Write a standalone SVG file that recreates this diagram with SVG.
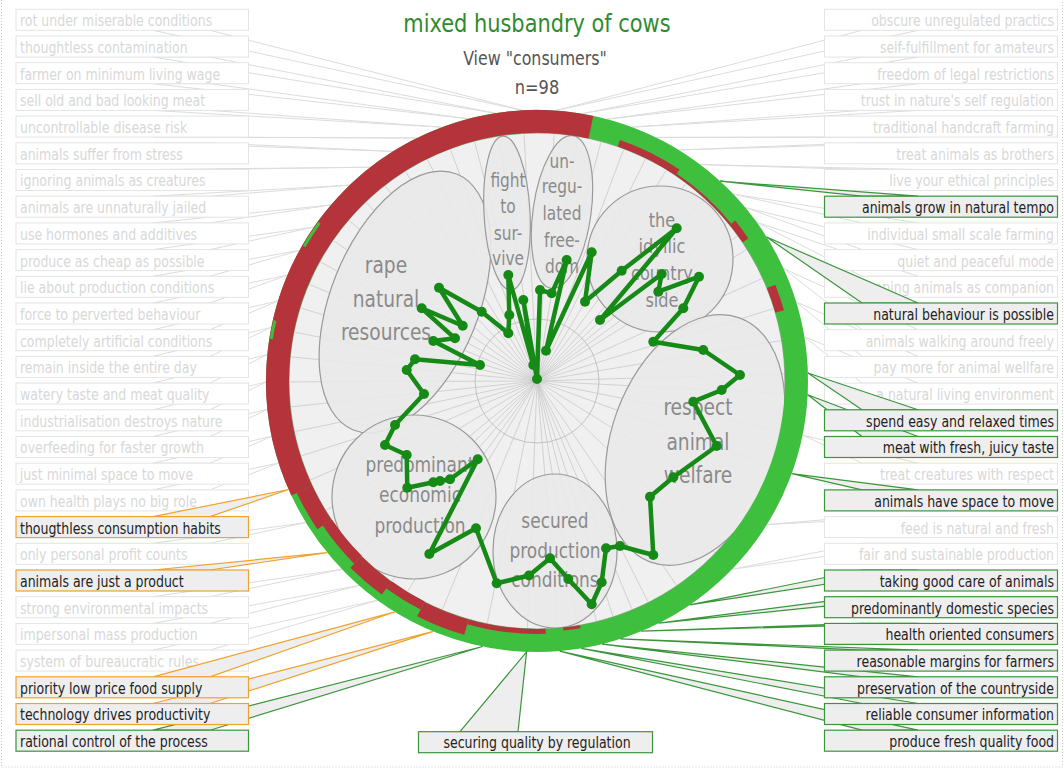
<svg xmlns="http://www.w3.org/2000/svg" width="1064" height="772" viewBox="0 0 1064 772">
<style>
text{font-family:'Liberation Sans Narrow','DejaVu Sans Condensed','Roboto Condensed','Liberation Sans',sans-serif}
.fb{fill:#fff;stroke:#e4e4e4;stroke-width:1}
.ft,.ht{font-size:16px;transform-box:fill-box;transform-origin:0 0;transform:scaleX(.87)}
.ftr,.htr{font-size:16px;text-anchor:end;transform-box:fill-box;transform-origin:100% 0;transform:scaleX(.87)}
.htc{fill:#222;font-size:16px;text-anchor:middle;transform-box:fill-box;transform-origin:50% 0;transform:scaleX(.87)}
.ft,.ftr{fill:#d8d8d8}
.ht,.htr{fill:#222}
.ftl{fill:none;stroke:#dcdcdc;stroke-width:1}
.hg{fill:#eeeeee;stroke:#3a963a;stroke-width:1.2}
.ho{fill:#eeeeee;stroke:#f0a22e;stroke-width:1.2}
.bub{fill:#e9e9e9;fill-opacity:0.9;stroke:#9a9a9a;stroke-width:1.2}
.bl{fill:#8a8a8a;text-anchor:middle;transform-box:fill-box;transform-origin:50% 0;transform:scaleX(.9)}
.ti{text-anchor:middle;transform-box:fill-box;transform-origin:50% 0}
.red{fill:none;stroke:#b5333b}
.grn{fill:none;stroke:#3ebf3e}
</style>
<rect x="1.5" y="-2" width="1061" height="769" fill="none" stroke="#c8c8c8" stroke-dasharray="1 2"/>

<g id="connectors-faded">
<polygon class="ftl" points="153,30.3 522.8,110.4 210,30.3"/>
<polygon class="ftl" points="153,57 495.5,113.2 210,57"/>
<polygon class="ftl" points="153,83.7 468.7,118.8 210,83.7"/>
<polygon class="ftl" points="153,110.4 442.1,127.2 210,110.4"/>
<polygon class="ftl" points="153,137.1 416.9,138 210,137.1"/>
<polygon class="ftl" points="153,142.8 393,151.4 210,142.8"/>
<polygon class="ftl" points="153,169.5 370.5,167.2 210,169.5"/>
<polygon class="ftl" points="153,196.2 349.8,185.1 210,196.2"/>
<polygon class="ftl" points="153,222.9 330.9,205 210,222.9"/>
<polygon class="ftl" points="153,249.6 314,227.1 210,249.6"/>
<polygon class="ftl" points="153,276.3 299.5,250.4 210,276.3"/>
<polygon class="ftl" points="153,303 287.5,275.1 210,303"/>
<polygon class="ftl" points="153,329.7 278.1,300.9 210,329.7"/>
<polygon class="ftl" points="153,356.4 271.3,327.4 210,356.4"/>
<polygon class="ftl" points="153,383.1 267.3,354.6 210,383.1"/>
<polygon class="ftl" points="153,409.8 266,382 210,409.8"/>
<polygon class="ftl" points="153,436.5 267.5,409.3 210,436.5"/>
<polygon class="ftl" points="153,463.2 271.7,436.4 210,463.2"/>
<polygon class="ftl" points="153,489.9 278.7,463 210,489.9"/>
<polygon class="ftl" points="153,543.3 305.9,522.6 210,543.3"/>
<polygon class="ftl" points="153,596.7 342.1,569.3 210,596.7"/>
<polygon class="ftl" points="153,623.4 359.2,585.5 210,623.4"/>
<polygon class="ftl" points="153,650.1 377.7,600.2 210,650.1"/>
<polygon class="ftl" points="862,30.3 555.9,110.6 918,30.3"/>
<polygon class="ftl" points="862,57 581.7,113.7 918,57"/>
<polygon class="ftl" points="862,83.7 607.1,119.2 918,83.7"/>
<polygon class="ftl" points="862,110.4 631.9,127.2 918,110.4"/>
<polygon class="ftl" points="862,137.1 655.8,137.4 918,137.1"/>
<polygon class="ftl" points="862,142.8 678.6,150 918,142.8"/>
<polygon class="ftl" points="862,169.5 700.1,164.6 918,169.5"/>
<polygon class="ftl" points="862,222.9 733.3,194.1 918,222.9"/>
<polygon class="ftl" points="862,249.6 745.2,207.5 918,249.6"/>
<polygon class="ftl" points="862,276.3 756.5,222.1 918,276.3"/>
<polygon class="ftl" points="862,329.7 783.6,268.6 918,329.7"/>
<polygon class="ftl" points="862,356.4 796.2,301.8 918,356.4"/>
<polygon class="ftl" points="862,383.1 804.4,336.7 918,383.1"/>
<polygon class="ftl" points="862,463.2 802.6,435 918,463.2"/>
<polygon class="ftl" points="862,516.6 766.8,524.6 918,516.6"/>
<polygon class="ftl" points="862,543.3 731.9,569.3 918,543.3"/>
</g>

<g id="chart">
<circle cx="537" cy="381" r="248" fill="#f0f0f0" stroke="#a8a8a8" stroke-width="1.2"/>
<path fill="none" stroke="#c9c9c9" stroke-width="0.8" d="M537 381L524.1 134.3M537 381L499.2 136.9M537 381L474.7 142M537 381L450.5 149.6M537 381L427.6 159.6M537 381L405.7 171.8M537 381L385.3 186.1M537 381L366.3 202.4M537 381L349.2 220.6M537 381L333.7 240.8M537 381L320.6 262M537 381L309.6 284.5M537 381L301 308M537 381L294.9 332.2M537 381L291.2 356.9M537 381L290 381.9M537 381L291.4 406.8M537 381L295.2 431.5M537 381L301.6 455.7M537 381L310.6 479.9M537 381L326.4 510.1M537 381L345.9 537.4M537 381L359.3 552.6M537 381L375 567.4M537 381L391.8 580.8M537 381L407.6 591.4M537 381L442.5 609.2M537 381L487.3 623M537 381L527.5 627.8M537 381L554.2 134.6M537 381L577.8 137.4M537 381L600.9 142.4M537 381L623.5 149.6M537 381L645.3 159M537 381L666.1 170.4M537 381L685.6 183.7M537 381L703.9 198.9M537 381L715.9 210.7M537 381L726.8 222.9M537 381L737.1 236.2M537 381L746.2 249.7M537 381L761.8 278.6M537 381L773.2 308.8M537 381L780.7 340.7M537 381L783.9 373.7M537 381L783.7 393.5M537 381L779 430.3M537 381L769.1 465.5M537 381L746.5 511.9M537 381L714.7 552.6M537 381L676.2 585M537 381L648 601.7M537 381L631.9 609M537 381L612.9 616M537 381L596.3 620.8M537 381L577.3 624.7M537 381L557.7 627.1"/>
<circle cx="537" cy="381" r="62" fill="none" stroke="#c2c2c2" stroke-width="1"/>
</g>

<g id="bubble-rape">
<ellipse class="bub" cx="405" cy="302" rx="74" ry="138" transform="rotate(22 405 302)"/>
<text class="bl" font-size="23" x="386" y="273">rape</text>
<text class="bl" font-size="23" x="386" y="307">natural</text>
<text class="bl" font-size="23" x="386" y="340">resources</text>
</g>
<g id="bubble-fight">
<ellipse class="bub" cx="507" cy="213" rx="23" ry="77" transform="rotate(-3 507 213)"/>
<text class="bl" font-size="19" x="508" y="187">fight</text>
<text class="bl" font-size="19" x="508" y="213">to</text>
<text class="bl" font-size="19" x="508" y="240">sur-</text>
<text class="bl" font-size="19" x="508" y="265">vive</text>
</g>
<g id="bubble-unregulated">
<ellipse class="bub" cx="562" cy="212" rx="29" ry="77" transform="rotate(8 562 212)"/>
<text class="bl" font-size="19" x="562" y="168">un-</text>
<text class="bl" font-size="19" x="562" y="193">regu-</text>
<text class="bl" font-size="19" x="562" y="220">lated</text>
<text class="bl" font-size="19" x="562" y="247">free-</text>
<text class="bl" font-size="19" x="562" y="273">dom</text>
</g>
<g id="bubble-idyllic">
<circle class="bub" cx="660" cy="259" r="73"/>
<text class="bl" font-size="20" x="662" y="227">the</text>
<text class="bl" font-size="20" x="662" y="253">idyllic</text>
<text class="bl" font-size="20" x="662" y="280">country</text>
<text class="bl" font-size="20" x="662" y="307">side</text>
</g>
<g id="bubble-respect">
<ellipse class="bub" cx="695" cy="440" rx="83" ry="130" transform="rotate(20 695 440)"/>
<text class="bl" font-size="23" x="698" y="415">respect</text>
<text class="bl" font-size="23" x="698" y="450">animal</text>
<text class="bl" font-size="23" x="698" y="483">welfare</text>
</g>
<g id="bubble-secured">
<ellipse class="bub" cx="555" cy="551" rx="62" ry="77"/>
<text class="bl" font-size="21" x="555" y="528">secured</text>
<text class="bl" font-size="21" x="555" y="558">production</text>
<text class="bl" font-size="21" x="555" y="587">conditions</text>
</g>
<g id="bubble-economic">
<circle class="bub" cx="414" cy="497" r="82"/>
<text class="bl" font-size="21" x="420" y="472">predominant</text>
<text class="bl" font-size="21" x="420" y="502">economic</text>
<text class="bl" font-size="21" x="420" y="533">production</text>
</g>

<g id="profile" fill="#168a16">
<polygon fill="none" stroke="#168a16" stroke-width="4.5" stroke-linejoin="round" points="540,290 551.7,293.3 566.7,260 546,350.7 591.7,252.3 585,301.7 621.7,270.7 676.7,228.3 600,320 661.7,274 658.3,291.7 699,276.7 683.3,308.3 653.3,341.7 703.3,350 740,375 721.7,390 693.3,401.7 716.7,446 673.3,477.3 650,496.7 653.3,555 620,546 606,548.3 601.7,582.3 591.7,604.3 568.3,579 550,558.3 529,575.5 496.7,583.3 476,528.3 429.3,554 477.7,459.3 450,479.3 440,481 433.3,482.3 407.3,487.7 406.7,455 385,445 395,425 424,394 406.7,370 415,359.3 480,365 433.3,341 455,338.3 421.7,308.3 462.7,325.7 439,287.7 481.7,311.7 508.3,333.3 509.3,315 508.3,275 533.3,365 523.3,300 537,379"/>
<circle cx="540" cy="290" r="5"/><circle cx="551.7" cy="293.3" r="5"/><circle cx="566.7" cy="260" r="5"/><circle cx="546" cy="350.7" r="5"/><circle cx="591.7" cy="252.3" r="5"/><circle cx="585" cy="301.7" r="5"/><circle cx="621.7" cy="270.7" r="5"/><circle cx="676.7" cy="228.3" r="5"/><circle cx="600" cy="320" r="5"/><circle cx="661.7" cy="274" r="5"/><circle cx="658.3" cy="291.7" r="5"/><circle cx="699" cy="276.7" r="5"/><circle cx="683.3" cy="308.3" r="5"/><circle cx="653.3" cy="341.7" r="5"/><circle cx="703.3" cy="350" r="5"/><circle cx="740" cy="375" r="5"/><circle cx="721.7" cy="390" r="5"/><circle cx="693.3" cy="401.7" r="5"/><circle cx="716.7" cy="446" r="5"/><circle cx="673.3" cy="477.3" r="5"/><circle cx="650" cy="496.7" r="5"/><circle cx="653.3" cy="555" r="5"/><circle cx="620" cy="546" r="5"/><circle cx="606" cy="548.3" r="5"/><circle cx="601.7" cy="582.3" r="5"/><circle cx="591.7" cy="604.3" r="5"/><circle cx="568.3" cy="579" r="5"/><circle cx="550" cy="558.3" r="5"/><circle cx="529" cy="575.5" r="5"/><circle cx="496.7" cy="583.3" r="5"/><circle cx="476" cy="528.3" r="5"/><circle cx="429.3" cy="554" r="5"/><circle cx="477.7" cy="459.3" r="5"/><circle cx="450" cy="479.3" r="5"/><circle cx="440" cy="481" r="5"/><circle cx="433.3" cy="482.3" r="5"/><circle cx="407.3" cy="487.7" r="5"/><circle cx="406.7" cy="455" r="5"/><circle cx="385" cy="445" r="5"/><circle cx="395" cy="425" r="5"/><circle cx="424" cy="394" r="5"/><circle cx="406.7" cy="370" r="5"/><circle cx="415" cy="359.3" r="5"/><circle cx="480" cy="365" r="5"/><circle cx="433.3" cy="341" r="5"/><circle cx="455" cy="338.3" r="5"/><circle cx="421.7" cy="308.3" r="5"/><circle cx="462.7" cy="325.7" r="5"/><circle cx="439" cy="287.7" r="5"/><circle cx="481.7" cy="311.7" r="5"/><circle cx="508.3" cy="333.3" r="5"/><circle cx="509.3" cy="315" r="5"/><circle cx="508.3" cy="275" r="5"/><circle cx="533.3" cy="365" r="5"/><circle cx="523.3" cy="300" r="5"/><circle cx="537" cy="379" r="5"/>
</g>

<g id="ring">
<circle class="grn" cx="537" cy="381" r="259.5" stroke-width="23"/>
<path class="red" stroke-width="23" d="M301.8 490.7A259.5 259.5 0 0 1 590.9 127.2"/>
<path class="red" stroke-width="17" d="M324.4 524.4A256.5 256.5 0 0 1 304.5 489.4"/>
<path class="red" stroke-width="11" d="M358.1 559.9A253.5 253.5 0 0 1 327.3 522.5"/>
<path class="red" stroke-width="16" d="M386.5 588.1A256 256 0 0 1 356 562"/>
<path class="red" stroke-width="9" d="M422.6 605.5A252.5 252.5 0 0 1 388.9 584.9"/>
<path class="red" stroke-width="16" d="M466.4 627.1A256 256 0 0 1 420.8 609.1"/>
<path class="red" stroke-width="5" d="M545.7 631.3A250.5 250.5 0 0 1 468 621.8"/>
<path class="red" stroke-width="3" d="M580.3 626.7A249.5 249.5 0 0 1 563.1 629.1"/>
<path class="red" stroke-width="9" d="M771.1 286.4A252.5 252.5 0 0 1 779.7 311.4"/>
<path class="red" stroke-width="7" d="M732.4 222.7A251.5 251.5 0 0 1 745.5 240.4"/>
<path class="red" stroke-width="2" d="M676.2 174.6A249 249 0 0 1 730.5 224.3"/>
<path class="red" stroke-width="7" d="M618.9 143.2A251.5 251.5 0 0 1 677.6 172.5"/>
<path class="grn" stroke-width="3" d="M271.3 338.9A269 269 0 0 1 274.9 320.5"/>
<path class="grn" stroke-width="3" d="M304 246.5A269 269 0 0 1 319.4 222.9"/>
</g>

<g id="title">
<text class="ti" x="537" y="32" font-size="25" fill="#2e8b2e" style="transform:scaleX(.93)">mixed husbandry of cows</text>
<text class="ti" x="535" y="65" font-size="20" fill="#555" style="transform:scaleX(.88)">View "consumers"</text>
<text class="ti" x="537" y="94" font-size="20" fill="#555" style="transform:scaleX(.9)">n=98</text>
</g>

<g id="nodes-faded">
<g id="n-l0"><rect class="fb" x="16" y="9.3" width="232.5" height="21"/><text class="ft" x="20" y="26.3">rot under miserable conditions</text></g>
<g id="n-l1"><rect class="fb" x="16" y="36" width="232.5" height="21"/><text class="ft" x="20" y="53">thoughtless contamination</text></g>
<g id="n-l2"><rect class="fb" x="16" y="62.7" width="232.5" height="21"/><text class="ft" x="20" y="79.7">farmer on minimum living wage</text></g>
<g id="n-l3"><rect class="fb" x="16" y="89.4" width="232.5" height="21"/><text class="ft" x="20" y="106.4">sell old and bad looking meat</text></g>
<g id="n-l4"><rect class="fb" x="16" y="116.1" width="232.5" height="21"/><text class="ft" x="20" y="133.1">uncontrollable disease risk</text></g>
<g id="n-l5"><rect class="fb" x="16" y="142.8" width="232.5" height="21"/><text class="ft" x="20" y="159.8">animals suffer from stress</text></g>
<g id="n-l6"><rect class="fb" x="16" y="169.5" width="232.5" height="21"/><text class="ft" x="20" y="186.5">ignoring animals as creatures</text></g>
<g id="n-l7"><rect class="fb" x="16" y="196.2" width="232.5" height="21"/><text class="ft" x="20" y="213.2">animals are unnaturally jailed</text></g>
<g id="n-l8"><rect class="fb" x="16" y="222.9" width="232.5" height="21"/><text class="ft" x="20" y="239.9">use hormones and additives</text></g>
<g id="n-l9"><rect class="fb" x="16" y="249.6" width="232.5" height="21"/><text class="ft" x="20" y="266.6">produce as cheap as possible</text></g>
<g id="n-l10"><rect class="fb" x="16" y="276.3" width="232.5" height="21"/><text class="ft" x="20" y="293.3">lie about production conditions</text></g>
<g id="n-l11"><rect class="fb" x="16" y="303" width="232.5" height="21"/><text class="ft" x="20" y="320">force to perverted behaviour</text></g>
<g id="n-l12"><rect class="fb" x="16" y="329.7" width="232.5" height="21"/><text class="ft" x="20" y="346.7">completely artificial conditions</text></g>
<g id="n-l13"><rect class="fb" x="16" y="356.4" width="232.5" height="21"/><text class="ft" x="20" y="373.4">remain inside the entire day</text></g>
<g id="n-l14"><rect class="fb" x="16" y="383.1" width="232.5" height="21"/><text class="ft" x="20" y="400.1">watery taste and meat quality</text></g>
<g id="n-l15"><rect class="fb" x="16" y="409.8" width="232.5" height="21"/><text class="ft" x="20" y="426.8">industrialisation destroys nature</text></g>
<g id="n-l16"><rect class="fb" x="16" y="436.5" width="232.5" height="21"/><text class="ft" x="20" y="453.5">overfeeding for faster growth</text></g>
<g id="n-l17"><rect class="fb" x="16" y="463.2" width="232.5" height="21"/><text class="ft" x="20" y="480.2">just minimal space to move</text></g>
<g id="n-l18"><rect class="fb" x="16" y="489.9" width="232.5" height="21"/><text class="ft" x="20" y="506.9">own health plays no big role</text></g>
<g id="n-l20"><rect class="fb" x="16" y="543.3" width="232.5" height="21"/><text class="ft" x="20" y="560.3">only personal profit counts</text></g>
<g id="n-l22"><rect class="fb" x="16" y="596.7" width="232.5" height="21"/><text class="ft" x="20" y="613.7">strong environmental impacts</text></g>
<g id="n-l23"><rect class="fb" x="16" y="623.4" width="232.5" height="21"/><text class="ft" x="20" y="640.4">impersonal mass production</text></g>
<g id="n-l24"><rect class="fb" x="16" y="650.1" width="232.5" height="21"/><text class="ft" x="20" y="667.1">system of bureaucratic rules</text></g>
<g id="n-r0"><rect class="fb" x="824.5" y="9.3" width="233" height="21"/><text class="ftr" x="1054" y="26.3">obscure unregulated practics</text></g>
<g id="n-r1"><rect class="fb" x="824.5" y="36" width="233" height="21"/><text class="ftr" x="1054" y="53">self-fulfillment for amateurs</text></g>
<g id="n-r2"><rect class="fb" x="824.5" y="62.7" width="233" height="21"/><text class="ftr" x="1054" y="79.7">freedom of legal restrictions</text></g>
<g id="n-r3"><rect class="fb" x="824.5" y="89.4" width="233" height="21"/><text class="ftr" x="1054" y="106.4">trust in nature's self regulation</text></g>
<g id="n-r4"><rect class="fb" x="824.5" y="116.1" width="233" height="21"/><text class="ftr" x="1054" y="133.1">traditional handcraft farming</text></g>
<g id="n-r5"><rect class="fb" x="824.5" y="142.8" width="233" height="21"/><text class="ftr" x="1054" y="159.8">treat animals as brothers</text></g>
<g id="n-r6"><rect class="fb" x="824.5" y="169.5" width="233" height="21"/><text class="ftr" x="1054" y="186.5">live your ethical principles</text></g>
<g id="n-r8"><rect class="fb" x="824.5" y="222.9" width="233" height="21"/><text class="ftr" x="1054" y="239.9">individual small scale farming</text></g>
<g id="n-r9"><rect class="fb" x="824.5" y="249.6" width="233" height="21"/><text class="ftr" x="1054" y="266.6">quiet and peaceful mode</text></g>
<g id="n-r10"><rect class="fb" x="824.5" y="276.3" width="233" height="21"/><text class="ftr" x="1054" y="293.3">keeping animals as companion</text></g>
<g id="n-r12"><rect class="fb" x="824.5" y="329.7" width="233" height="21"/><text class="ftr" x="1054" y="346.7">animals walking around freely</text></g>
<g id="n-r13"><rect class="fb" x="824.5" y="356.4" width="233" height="21"/><text class="ftr" x="1054" y="373.4">pay more for animal wellfare</text></g>
<g id="n-r14"><rect class="fb" x="824.5" y="383.1" width="233" height="21"/><text class="ftr" x="1054" y="400.1">a natural living environment</text></g>
<g id="n-r17"><rect class="fb" x="824.5" y="463.2" width="233" height="21"/><text class="ftr" x="1054" y="480.2">treat creatures with respect</text></g>
<g id="n-r19"><rect class="fb" x="824.5" y="516.6" width="233" height="21"/><text class="ftr" x="1054" y="533.6">feed is natural and fresh</text></g>
<g id="n-r20"><rect class="fb" x="824.5" y="543.3" width="233" height="21"/><text class="ftr" x="1054" y="560.3">fair and sustainable production</text></g>
</g>

<g id="connectors-highlighted">
<polygon class="ho" points="153,516.6 288.7,489.5 210,516.6"/>
<polygon class="ho" points="153,570 327.3,552.7 210,570"/>
<polygon class="ho" points="153,676.8 395,611.8 210,676.8"/>
<polygon class="ho" points="153,703.5 433.3,631.4 210,703.5"/>
<polygon class="hg" points="153,730.2 482.5,646.5 210,730.2"/>
<polygon class="hg" points="862,196.2 720.1,181.2 918,196.2"/>
<polygon class="hg" points="862,303 766.6,237 918,303"/>
<polygon class="hg" points="862,409.8 807.9,373 918,409.8"/>
<polygon class="hg" points="862,436.5 807.6,394.7 918,436.5"/>
<polygon class="hg" points="862,489.9 791.7,473.7 918,489.9"/>
<polygon class="hg" points="862,570 689.7,604.9 918,570"/>
<polygon class="hg" points="862,596.7 658.8,623.1 918,596.7"/>
<polygon class="hg" points="862,623.4 641.1,631.2 918,623.4"/>
<polygon class="hg" points="862,650.1 620.3,638.9 918,650.1"/>
<polygon class="hg" points="862,676.8 602.1,644.1 918,676.8"/>
<polygon class="hg" points="862,703.5 581.3,648.4 918,703.5"/>
<polygon class="hg" points="862,730.2 559.7,651.1 918,730.2"/>
<polygon class="hg" points="460,731.7 526.6,651.8 518,731.7"/>
</g>

<g id="nodes-highlighted">
<g id="n-l19"><rect class="ho" x="16" y="516.6" width="232.5" height="21"/><text class="ht" x="20" y="533.6">thougthless consumption habits</text></g>
<g id="n-l21"><rect class="ho" x="16" y="570" width="232.5" height="21"/><text class="ht" x="20" y="587">animals are just a product</text></g>
<g id="n-l25"><rect class="ho" x="16" y="676.8" width="232.5" height="21"/><text class="ht" x="20" y="693.8">priority low price food supply</text></g>
<g id="n-l26"><rect class="ho" x="16" y="703.5" width="232.5" height="21"/><text class="ht" x="20" y="720.5">technology drives productivity</text></g>
<g id="n-l27"><rect class="hg" x="16" y="730.2" width="232.5" height="21"/><text class="ht" x="20" y="747.2">rational control of the process</text></g>
<g id="n-r7"><rect class="hg" x="824.5" y="196.2" width="233" height="21"/><text class="htr" x="1054" y="213.2">animals grow in natural tempo</text></g>
<g id="n-r11"><rect class="hg" x="824.5" y="303" width="233" height="21"/><text class="htr" x="1054" y="320">natural behaviour is possible</text></g>
<g id="n-r15"><rect class="hg" x="824.5" y="409.8" width="233" height="21"/><text class="htr" x="1054" y="426.8">spend easy and relaxed times</text></g>
<g id="n-r16"><rect class="hg" x="824.5" y="436.5" width="233" height="21"/><text class="htr" x="1054" y="453.5">meat with fresh, juicy taste</text></g>
<g id="n-r18"><rect class="hg" x="824.5" y="489.9" width="233" height="21"/><text class="htr" x="1054" y="506.9">animals have space to move</text></g>
<g id="n-r21"><rect class="hg" x="824.5" y="570" width="233" height="21"/><text class="htr" x="1054" y="587">taking good care of animals</text></g>
<g id="n-r22"><rect class="hg" x="824.5" y="596.7" width="233" height="21"/><text class="htr" x="1054" y="613.7">predominantly domestic species</text></g>
<g id="n-r23"><rect class="hg" x="824.5" y="623.4" width="233" height="21"/><text class="htr" x="1054" y="640.4">health oriented consumers</text></g>
<g id="n-r24"><rect class="hg" x="824.5" y="650.1" width="233" height="21"/><text class="htr" x="1054" y="667.1">reasonable margins for farmers</text></g>
<g id="n-r25"><rect class="hg" x="824.5" y="676.8" width="233" height="21"/><text class="htr" x="1054" y="693.8">preservation of the countryside</text></g>
<g id="n-r26"><rect class="hg" x="824.5" y="703.5" width="233" height="21"/><text class="htr" x="1054" y="720.5">reliable consumer information</text></g>
<g id="n-r27"><rect class="hg" x="824.5" y="730.2" width="233" height="21"/><text class="htr" x="1054" y="747.2">produce fresh quality food</text></g>
<g id="n-bottom"><rect class="hg" x="418.5" y="731.7" width="234" height="21"/><text class="htc" x="537" y="748.5">securing quality by regulation</text></g>
</g>
</svg>
